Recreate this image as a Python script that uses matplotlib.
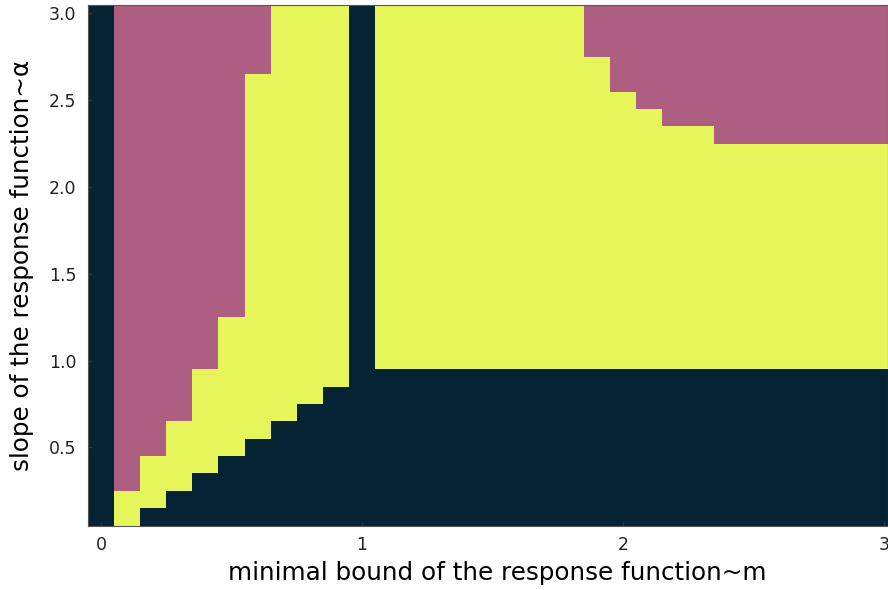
import numpy as np
import matplotlib
matplotlib.use("Agg")
import matplotlib.pyplot as plt
from matplotlib.colors import ListedColormap

# minimal bound m (columns) and slope alpha (rows)
m_values = [round(0.1 * i, 1) for i in range(31)]
alpha_values = [round(0.1 * i, 1) for i in range(1, 31)]

# outcome grid, top row = alpha 3.0, bottom row = alpha 0.1
# D = dark, M = mauve, Y = yellow ; columns grouped by 10
grid_rows = [
    "DMMMMMMYYY DYYYYYYYYM MMMMMMMMMM M",  # 3.0
    "DMMMMMMYYY DYYYYYYYYM MMMMMMMMMM M",  # 2.9
    "DMMMMMMYYY DYYYYYYYYM MMMMMMMMMM M",  # 2.8
    "DMMMMMMYYY DYYYYYYYYY MMMMMMMMMM M",  # 2.7
    "DMMMMMYYYY DYYYYYYYYY MMMMMMMMMM M",  # 2.6
    "DMMMMMYYYY DYYYYYYYYY YMMMMMMMMM M",  # 2.5
    "DMMMMMYYYY DYYYYYYYYY YYMMMMMMMM M",  # 2.4
    "DMMMMMYYYY DYYYYYYYYY YYYYMMMMMM M",  # 2.3
    "DMMMMMYYYY DYYYYYYYYY YYYYYYYYYY Y",  # 2.2
    "DMMMMMYYYY DYYYYYYYYY YYYYYYYYYY Y",  # 2.1
    "DMMMMMYYYY DYYYYYYYYY YYYYYYYYYY Y",  # 2.0
    "DMMMMMYYYY DYYYYYYYYY YYYYYYYYYY Y",  # 1.9
    "DMMMMMYYYY DYYYYYYYYY YYYYYYYYYY Y",  # 1.8
    "DMMMMMYYYY DYYYYYYYYY YYYYYYYYYY Y",  # 1.7
    "DMMMMMYYYY DYYYYYYYYY YYYYYYYYYY Y",  # 1.6
    "DMMMMMYYYY DYYYYYYYYY YYYYYYYYYY Y",  # 1.5
    "DMMMMMYYYY DYYYYYYYYY YYYYYYYYYY Y",  # 1.4
    "DMMMMMYYYY DYYYYYYYYY YYYYYYYYYY Y",  # 1.3
    "DMMMMYYYYY DYYYYYYYYY YYYYYYYYYY Y",  # 1.2
    "DMMMMYYYYY DYYYYYYYYY YYYYYYYYYY Y",  # 1.1
    "DMMMMYYYYY DYYYYYYYYY YYYYYYYYYY Y",  # 1.0
    "DMMMYYYYYY DDDDDDDDDD DDDDDDDDDD D",  # 0.9
    "DMMMYYYYYD DDDDDDDDDD DDDDDDDDDD D",  # 0.8
    "DMMMYYYYDD DDDDDDDDDD DDDDDDDDDD D",  # 0.7
    "DMMYYYYDDD DDDDDDDDDD DDDDDDDDDD D",  # 0.6
    "DMMYYYDDDD DDDDDDDDDD DDDDDDDDDD D",  # 0.5
    "DMYYYDDDDD DDDDDDDDDD DDDDDDDDDD D",  # 0.4
    "DMYYDDDDDD DDDDDDDDDD DDDDDDDDDD D",  # 0.3
    "DYYDDDDDDD DDDDDDDDDD DDDDDDDDDD D",  # 0.2
    "DYDDDDDDDD DDDDDDDDDD DDDDDDDDDD D",  # 0.1
]

categories = ["D", "M", "Y"]
colors = ["#062334", "#AE5E80", "#E6F65A"]

xticks = [0, 1, 2, 3]
yticks = [0.5, 1.0, 1.5, 2.0, 2.5, 3.0]
xlabel = "minimal bound of the response function~m"
ylabel = "slope of the response function~α"

rows = ["".join(r.split()) for r in grid_rows]
assert all(len(r) == len(m_values) for r in rows)
Z = np.array([[categories.index(c) for c in r] for r in rows[::-1]])

m = np.array(m_values)
a = np.array(alpha_values)
m_edges = np.append(m - 0.05, m[-1] + 0.05)
a_edges = np.append(a - 0.05, a[-1] + 0.05)

fig = plt.figure(figsize=(8.88, 5.90), dpi=100)
ax = fig.add_axes([88 / 888, (590 - 525.5) / 590, 1 - 88 / 888, (525.5 - 4.7) / 590])
ax.pcolormesh(m_edges, a_edges, Z, cmap=ListedColormap(colors), vmin=-0.5, vmax=2.5)
ax.set_xlim(-0.05, 3.016)
ax.set_ylim(0.05, 3.05)
ax.set_xticks(xticks)
ax.set_xticklabels([str(t) for t in xticks])
ax.set_yticks(yticks)
ax.set_yticklabels([f"{t:.1f}" for t in yticks])
ax.tick_params(direction="in", length=3, width=0.8, labelsize=12.5, colors="#333333",
               labelcolor="#222222")
ax.tick_params(axis="y", pad=8.5)
ax.tick_params(axis="x", pad=7.5)
for s in ax.spines.values():
    s.set_color("#555555")
    s.set_linewidth(0.8)
ax.set_xlabel(xlabel, fontsize=17.7)
ax.set_ylabel(ylabel, fontsize=17.7)
ax.xaxis.set_label_coords(0.511, -0.068)
ax.yaxis.set_label_coords(-0.067, 0.5)

fig.savefig("out.png", dpi=100)
